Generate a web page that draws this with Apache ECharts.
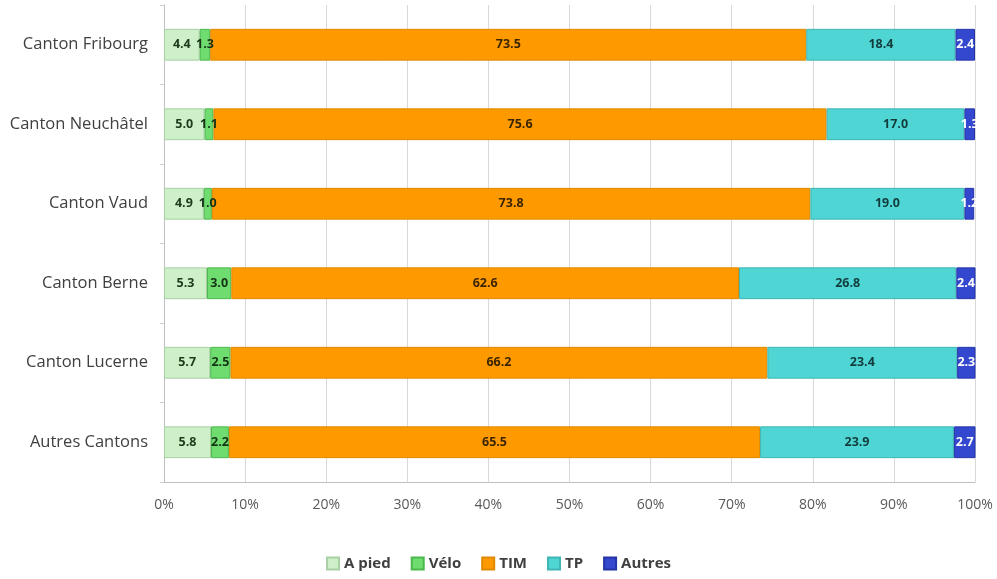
<!DOCTYPE html>
<html>
<head>
<meta charset="utf-8">
<script src="https://cdn.jsdelivr.net/npm/echarts@6/dist/echarts.min.js"></script>
<style>html,body{margin:0;padding:0;background:#fff;}#c{width:997px;height:579px;}</style>
</head>
<body>
<div id="c"></div>
<script>
const categories = ["Canton Fribourg", "Canton Neuchâtel", "Canton Vaud", "Canton Berne", "Canton Lucerne", "Autres Cantons"];
const seriesNames = ["A pied", "Vélo", "TIM", "TP", "Autres"];
const aPied = [4.4, 5.0, 4.9, 5.3, 5.7, 5.8];
const velo = [1.3, 1.1, 1.0, 3.0, 2.5, 2.2];
const tim = [73.5, 75.6, 73.8, 62.6, 66.2, 65.5];
const tp = [18.4, 17.0, 19.0, 26.8, 23.4, 23.9];
const autres = [2.4, 1.3, 1.2, 2.4, 2.3, 2.7];
const xTicks = [0, 10, 20, 30, 40, 50, 60, 70, 80, 90, 100];

const values = [aPied, velo, tim, tp, autres];
const colors = ["#cdf0c8", "#6fdc6f", "#ff9900", "#4fd6d4", "#3347cf"];
const borders = ["#a9cfa5", "#4cb84c", "#e08a00", "#3fb5b3", "#2535a8"];
const labelColors = ["#1b3b1b", "#143314", "#3b2500", "#123c3c", "#ffffff"];

const chart = echarts.init(document.getElementById('c'));
chart.setOption({
  animation: false,
  grid: { left: 164, right: 22, top: 5, bottom: 97, containLabel: false },
  legend: {
    bottom: 3, left: 'center',
    icon: 'rect',
    itemWidth: 12, itemHeight: 12, itemGap: 20,
    textStyle: { fontSize: 15, fontWeight: 'bold', color: '#404040', fontFamily: 'Open Sans' },
    data: seriesNames
  },
  xAxis: {
    type: 'value', min: 0, max: 100, interval: 10,
    axisLabel: { formatter: v => xTicks.includes(v) ? v + '%' : '', color: '#595959', fontSize: 14, margin: 16, fontFamily: 'Open Sans' },
    axisLine: { show: true, lineStyle: { color: '#bfbfbf' } },
    axisTick: { show: false },
    splitLine: { show: true, lineStyle: { color: '#d9d9d9' } }
  },
  yAxis: {
    type: 'category', inverse: true, data: categories,
    axisLabel: { color: '#404040', fontSize: 16.5, margin: 16, fontFamily: 'Open Sans' },
    axisLine: { show: true, lineStyle: { color: '#bfbfbf' } },
    axisTick: { show: true, length: 4, lineStyle: { color: '#d0d0d0' } }
  },
  series: seriesNames.map((n, i) => ({
    name: n, type: 'bar', stack: 'total', barWidth: '40%',
    data: values[i],
    itemStyle: { color: colors[i], borderColor: borders[i], borderWidth: 1 },
    label: {
      show: true, position: 'inside', formatter: p => p.value.toFixed(1),
      color: labelColors[i], fontSize: 12.5, fontWeight: 'bold', fontFamily: 'Open Sans'
    }
  }))
});
</script>
</body>
</html>
